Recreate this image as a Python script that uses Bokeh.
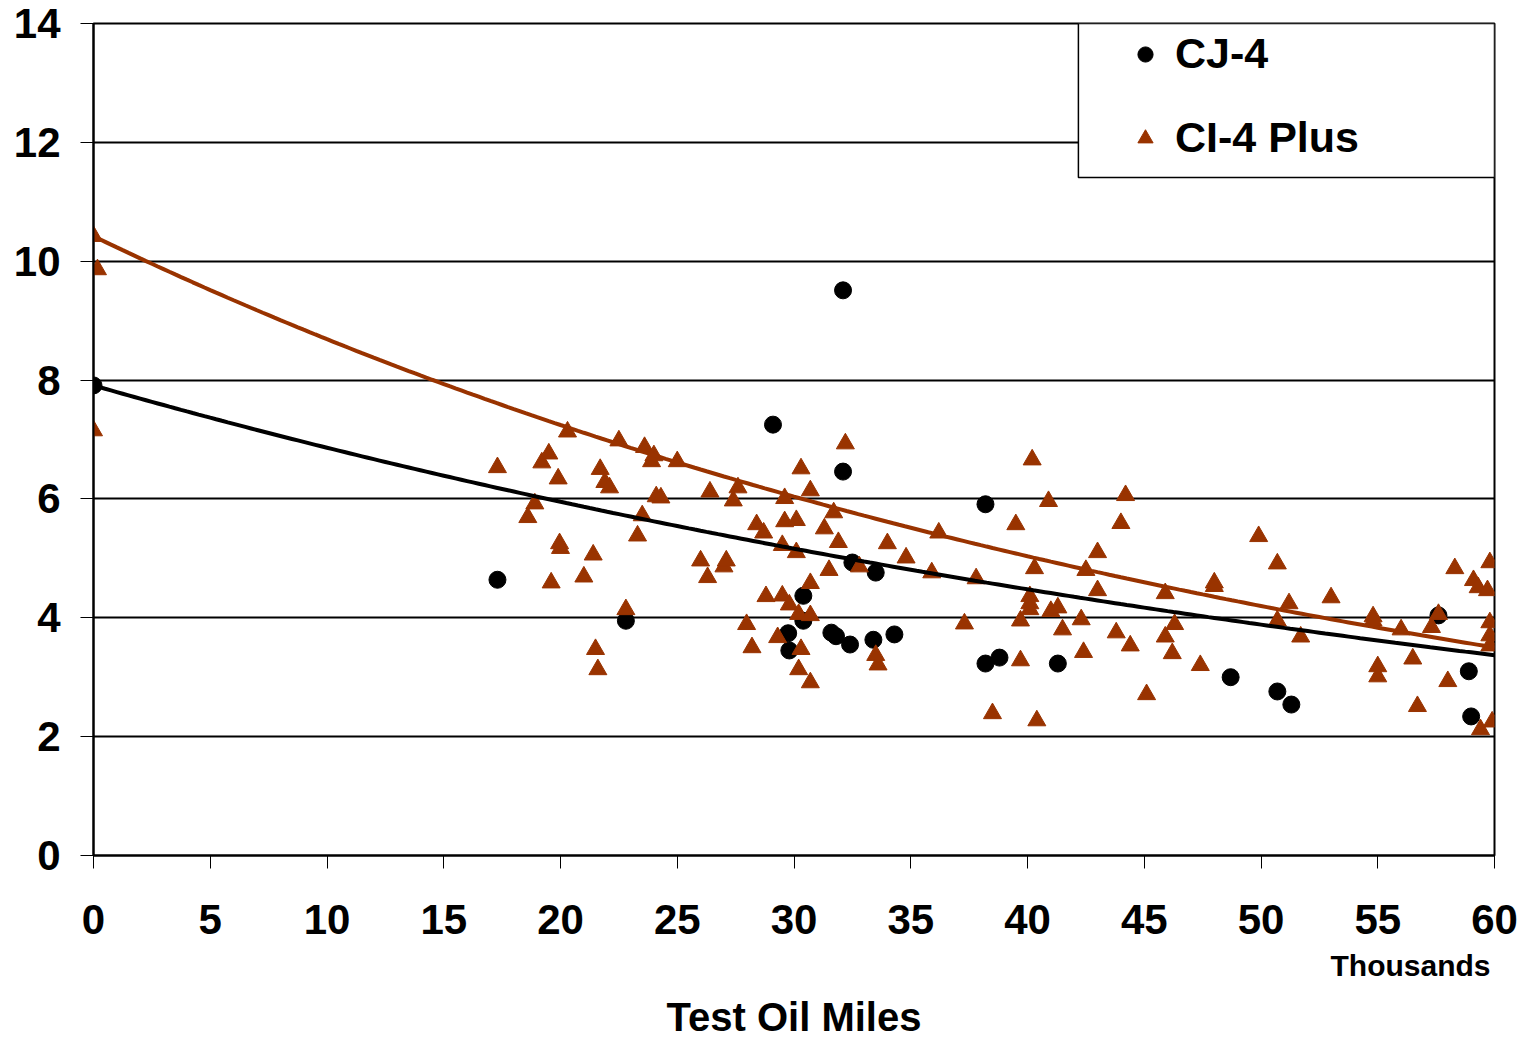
import numpy as np
from bokeh.plotting import figure
from bokeh.models import (Range1d, FixedTicker, Legend, LegendItem, BoxAnnotation, Title)
from bokeh.embed import file_html
from bokeh.resources import INLINE

# ---------------- data ----------------
X_TICKS = [0, 5, 10, 15, 20, 25, 30, 35, 40, 45, 50, 55, 60]
Y_TICKS = [0, 2, 4, 6, 8, 10, 12, 14]

CJ4_MILES = [0, 17.3, 22.8, 29.1, 29.75, 29.8, 30.4, 30.4, 32.1, 32.1, 31.6, 31.8, 32.4,
             32.5, 33.5, 33.4, 34.3, 38.2, 38.2, 38.8, 41.3, 48.7, 50.7, 51.3, 57.6, 58.9, 59.0]
CJ4_VALUE = [7.91, 4.64, 3.95, 7.25, 3.74, 3.45, 4.37, 3.95, 9.51, 6.46, 3.75, 3.69, 3.55,
             4.93, 4.76, 3.63, 3.72, 5.91, 3.23, 3.33, 3.23, 3.00, 2.76, 2.54, 4.04, 3.10, 2.34]

CI4_MILES = [0, 0.17, 0, 17.3, 18.6, 18.9, 19.2, 19.5, 19.6, 19.9, 19.96, 20.0, 20.3, 21.0,
             21.4, 21.5, 21.6, 21.7, 21.9, 22.1, 22.5, 22.8, 23.3, 23.5, 23.6, 23.9, 24.0,
             24.1, 24.3, 25.0, 26.0, 26.3, 26.4, 27.0, 27.1, 27.4, 27.6, 27.97, 28.2, 28.4,
             28.7, 28.8, 29.3, 29.5, 29.6, 29.6, 29.5, 29.8, 30.1, 30.1, 30.2, 30.2, 30.3,
             30.3, 30.7, 30.7, 30.7, 30.7, 31.3, 31.5, 31.7, 31.9, 32.2, 32.8, 33.5, 33.6,
             34.0, 34.8, 35.9, 36.2, 37.3, 37.8, 38.5, 39.5, 39.7, 39.7, 40.1, 40.1, 40.1,
             40.2, 40.3, 40.4, 40.9, 41.0, 41.3, 41.5, 42.3, 42.4, 42.5, 43.0, 43.0, 43.8,
             44.0, 44.2, 44.4, 45.1, 45.9, 45.9, 46.2, 46.3, 47.4, 48.0, 48.0, 49.9, 50.7,
             50.7, 51.2, 51.7, 53.0, 54.8, 54.8, 55.0, 55.0, 56.0, 56.5, 56.7, 57.3, 57.6,
             58.0, 58.3, 59.1, 59.3, 59.4, 59.7, 59.8, 59.8, 59.8, 59.8, 59.9]
CI4_VALUE = [10.42, 9.86, 7.15, 6.53, 5.69, 5.92, 6.61, 6.76, 4.59, 6.34, 5.25, 5.17, 7.13, 4.69,
             5.06, 3.47, 3.13, 6.50, 6.28, 6.19, 6.98, 4.14, 5.38, 5.72, 6.87, 6.63, 6.73,
             6.04, 6.02, 6.63, 4.96, 4.68, 6.12, 4.86, 4.96, 5.97, 6.19, 3.89, 3.50, 5.57,
             5.43, 4.36, 3.67, 5.22, 6.01, 5.62, 4.37, 4.22, 5.64, 5.10, 4.06, 3.13, 6.51,
             3.47, 4.58, 6.14, 2.91, 4.04, 5.50, 4.80, 5.77, 5.27, 6.93, 4.86, 3.37, 3.21,
             5.25, 5.01, 4.76, 5.43, 3.90, 4.66, 2.39, 5.57, 3.95, 3.28, 4.36, 4.24, 4.14,
             6.66, 4.83, 2.27, 5.96, 4.11, 4.17, 3.80, 3.97, 3.42, 4.80, 4.46, 5.10, 3.75,
             5.59, 6.06, 3.53, 2.71, 3.68, 4.41, 3.40, 3.89, 3.20, 4.59, 4.53, 5.37, 4.91,
             3.95, 4.24, 3.68, 4.34, 4.02, 3.95, 3.18, 3.01, 3.80, 3.31, 2.51, 3.84, 4.06,
             2.93, 4.83, 4.63, 4.51, 2.12, 4.46, 4.93, 3.92, 3.70, 3.53, 2.25]

# exponential trendline coefficients (y = a * exp(b * x))
CJ4_TREND_A, CJ4_TREND_B = 7.91, -0.01422
CI4_TREND_A, CI4_TREND_B = 10.42, -0.01818

BROWN = "#993300"
FONT = "Liberation Sans"

# ---------------- figure ----------------
p = figure(width=1532, height=1043, x_range=Range1d(0, 60), y_range=Range1d(0, 14),
           output_backend="svg", toolbar_location=None,
           min_border_left=93, min_border_right=38, min_border_top=23, min_border_bottom=188)
p.background_fill_color = "white"
p.border_fill_color = "white"
p.outline_line_color = "black"
p.outline_line_width = 2

p.xgrid.visible = False
p.ygrid.grid_line_color = "black"
p.ygrid.grid_line_width = 2
p.ygrid.ticker = FixedTicker(ticks=Y_TICKS)

p.xaxis.ticker = FixedTicker(ticks=X_TICKS)
p.yaxis.ticker = FixedTicker(ticks=Y_TICKS)
for ax in (p.xaxis[0], p.yaxis[0]):
    ax.axis_line_color = "black"
    ax.axis_line_width = 2
    ax.major_tick_line_color = "black"
    ax.major_tick_line_width = 1
    ax.major_tick_out = 13
    ax.major_tick_in = 0
    ax.minor_tick_line_color = None
    ax.major_label_text_font = FONT
    ax.major_label_text_font_style = "bold"
    ax.major_label_text_font_size = "42px"
    ax.major_label_text_color = "black"

p.yaxis.major_label_standoff = 20
p.xaxis.major_label_standoff = 36

# titles below the x axis: "Thousands" (right) then "Test Oil Miles" (centre)
t_thousands = Title(text="Thousands", align="right", offset=4, standoff=20,
                    text_font=FONT, text_font_style="bold", text_font_size="30px",
                    text_color="black")
t_axis = Title(text="Test Oil Miles", align="center", standoff=3,
               text_font=FONT, text_font_style="bold", text_font_size="40px",
               text_color="black")
p.add_layout(t_thousands, "below")
p.add_layout(t_axis, "below")

# ---------------- marks ----------------
r_cj4 = p.scatter(CJ4_MILES, CJ4_VALUE, marker="circle", size=17,
                  fill_color="black", line_color="black")
r_ci4 = p.scatter(CI4_MILES, CI4_VALUE, marker="triangle", size=18,
                  fill_color=BROWN, line_color=BROWN)

xs = np.linspace(0, 60, 241)
p.line(xs, CI4_TREND_A * np.exp(CI4_TREND_B * xs), line_color=BROWN, line_width=4)
p.line(xs, CJ4_TREND_A * np.exp(CJ4_TREND_B * xs), line_color="black", line_width=4)

# ---------------- legend ----------------
box = BoxAnnotation(left=42.18, right=60, bottom=11.41, top=14,
                    fill_color="white", fill_alpha=1.0,
                    line_color="black", line_width=1.5, line_alpha=1.0)
p.add_layout(box)

legend = Legend(items=[LegendItem(label="CJ-4", renderers=[r_cj4]),
                       LegendItem(label="CI-4 Plus", renderers=[r_ci4])],
                location=(1033, 693), padding=0, margin=0,
                glyph_width=38, glyph_height=38, label_height=38,
                label_standoff=11, spacing=35,
                label_text_font=FONT, label_text_font_style="bold",
                label_text_font_size="43px", label_text_color="black",
                border_line_color=None, background_fill_alpha=0.0)
p.add_layout(legend, "center")

open("out.html", "w").write(file_html(p, INLINE))
